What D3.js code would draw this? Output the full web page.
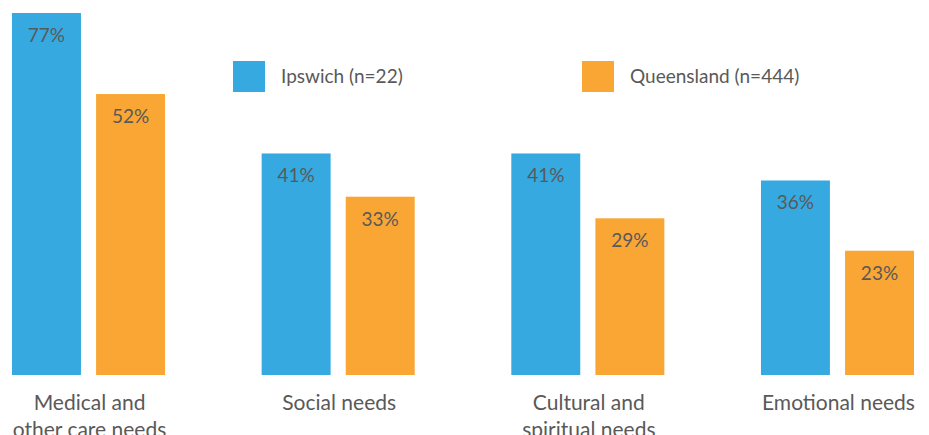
<!DOCTYPE html>
<html>
<head>
<meta charset="utf-8">
<script src="https://cdn.jsdelivr.net/npm/d3@7"></script>
<style>
  html, body { margin: 0; padding: 0; background: #fff; }
  svg { display: block; font-family: Lato, "Open Sans", sans-serif; }
</style>
</head>
<body>
<svg id="chart" width="929" height="435"></svg>
<script>
// Needs categories (two-line labels use "\n")
const categories = ["Medical and\nother care needs", "Social needs", "Cultural and\nspiritual needs", "Emotional needs"];
const seriesNames = ["Ipswich (n=22)", "Queensland (n=444)"];
const ipswich = [77, 41, 41, 36];
const queensland = [52, 33, 29, 23];
const colors = ["#36a9e1", "#faa634"];

const svg = d3.select("#chart");
const baseY = 375, plotTop = 13;

const x0 = d3.scaleBand().domain(categories).range([12, 914]).paddingInner(0.387).paddingOuter(0);
const x1 = d3.scaleBand().domain(seriesNames).range([0, x0.bandwidth()]).paddingInner(0.18).paddingOuter(0);
// The y scale tops out at 67% and is clamped, so the 77% bar stops at the
// top of the plot area and is shorter than its true scaled height.
const y = d3.scaleLinear().domain([0, 67]).range([baseY, plotTop]).clamp(true);

const rows = categories.map((c, i) => ({ cat: c, vals: [ipswich[i], queensland[i]] }));

const groups = svg.append("g").selectAll("g").data(rows).join("g")
  .attr("transform", d => `translate(${x0(d.cat)},0)`);

groups.selectAll("rect").data(d => d.vals.map((v, k) => ({ v, k })))
  .join("rect")
  .attr("x", d => x1(seriesNames[d.k]))
  .attr("y", d => y(d.v))
  .attr("width", x1.bandwidth())
  .attr("height", d => baseY - y(d.v))
  .attr("fill", d => colors[d.k]);

groups.selectAll("text.val").data(d => d.vals.map((v, k) => ({ v, k })))
  .join("text")
  .attr("class", "val")
  .attr("x", d => x1(seriesNames[d.k]) + x1.bandwidth() / 2)
  .attr("y", d => y(d.v) + 29)
  .attr("text-anchor", "middle")
  .attr("fill", "#595959")
  .style("font-size", "19px")
  .text(d => d.v + "%");

// Category labels under the baseline; the second lines run past the bottom edge of the 435px canvas
groups.append("text")
  .attr("text-anchor", "middle")
  .attr("fill", "#595959")
  .style("font-size", "21px")
  .each(function(d) {
    const lines = d.cat.split("\n");
    d3.select(this).selectAll("tspan").data(lines).join("tspan")
      .attr("x", x0.bandwidth() / 2 + 1)
      .attr("y", (l, j) => 410 + j * 27)
      .text(l => l);
  });

// Legend
const legendX = [233, 582];
const legend = svg.append("g").selectAll("g").data(seriesNames).join("g")
  .attr("transform", (d, i) => `translate(${legendX[i]},61)`);
legend.append("rect").attr("width", 32).attr("height", 31).attr("fill", (d, i) => colors[i]);
legend.append("text")
  .attr("x", 48).attr("y", 22)
  .attr("fill", "#595959")
  .style("font-size", "19px")
  .text(d => d);
</script>
</body>
</html>
